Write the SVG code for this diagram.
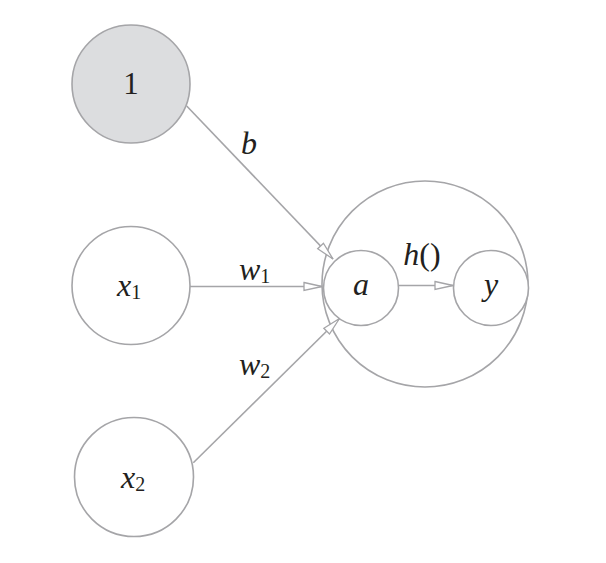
<svg xmlns="http://www.w3.org/2000/svg" width="606" height="563" viewBox="0 0 606 563">
<style>
.node{fill:#ffffff;stroke:#a5a5a8;stroke-width:1.6}
.bias{fill:#dcdddf;stroke:#a5a5a8;stroke-width:1.6}
.edge{stroke:#a5a5a8;stroke-width:1.6;fill:none}
.lbl{font-family:"Liberation Serif","DejaVu Serif",serif;font-style:italic;font-size:32px;fill:#231f20}
.num{font-family:"Liberation Serif","DejaVu Serif",serif;font-size:31px;fill:#231f20}
.sub{font-style:normal;font-size:20px}
.up{font-style:normal}
</style>
<defs>
<marker id="arr" markerUnits="userSpaceOnUse" markerWidth="20" markerHeight="10" refX="18" refY="4.5" orient="auto" overflow="visible">
<path d="M0,0.5 L18,4.5 L0,8.5 Z" fill="#ffffff" stroke="#a5a5a8" stroke-width="1.3"/>
</marker>
</defs>
<rect width="606" height="563" fill="#ffffff"/>
<g id="neuron">
<circle class="node" cx="425" cy="284" r="103"/>
</g>
<g id="connectors">
<line class="edge" x1="186.7" y1="106" x2="333" y2="259" marker-end="url(#arr)"/>
<line class="edge" x1="190" y1="286.5" x2="322" y2="286.5" marker-end="url(#arr)"/>
<line class="edge" x1="193.3" y1="462.7" x2="339.5" y2="318.5" marker-end="url(#arr)"/>
<line class="edge" x1="399" y1="285.5" x2="453" y2="285.5" marker-end="url(#arr)"/>
<text class="lbl" x="249" y="154" text-anchor="middle">b</text>
<text class="lbl" x="239" y="280">w<tspan class="sub" dy="3">1</tspan></text>
<text class="lbl" x="239" y="375">w<tspan class="sub" dy="3">2</tspan></text>
<text class="lbl" x="422" y="265" text-anchor="middle">h<tspan class="up">()</tspan></text>
</g>
<g id="node-1">
<circle class="bias" cx="131" cy="84" r="59"/>
<text class="num" x="131" y="94" text-anchor="middle">1</text>
</g>
<g id="node-x1">
<circle class="node" cx="131" cy="285.5" r="59"/>
<text class="lbl" x="117" y="296">x<tspan class="sub" dy="3">1</tspan></text>
</g>
<g id="node-x2">
<circle class="node" cx="134" cy="477" r="59.5"/>
<text class="lbl" x="121" y="488">x<tspan class="sub" dy="3">2</tspan></text>
</g>
<g id="node-a">
<circle class="node" cx="361" cy="288" r="37.5"/>
<text class="lbl" x="361" y="295" text-anchor="middle">a</text>
</g>
<g id="node-y">
<circle class="node" cx="491" cy="288" r="37.5"/>
<text class="lbl" x="491" y="295" text-anchor="middle">y</text>
</g>
</svg>
